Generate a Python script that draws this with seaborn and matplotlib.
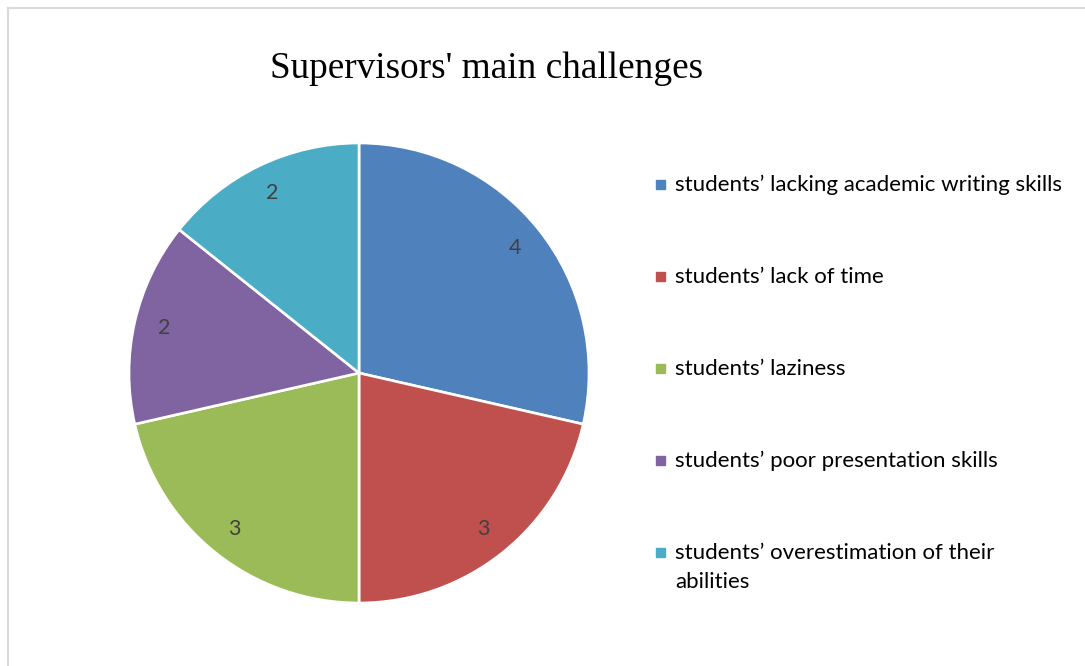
import matplotlib
matplotlib.use("Agg")
from matplotlib import pyplot as plt
from matplotlib.lines import Line2D
import seaborn as sns

# data
labels = ["students\u2019 lacking academic writing skills",
          "students\u2019 lack of time",
          "students\u2019 laziness",
          "students\u2019 poor presentation skills",
          "students\u2019 overestimation of their\nabilities"]
counts = [4, 3, 3, 2, 2]
colors = ["#4F81BD", "#C0504D", "#9BBB59", "#8064A2", "#4BACC6"]

sns.set_theme(style="white")
plt.rcParams['font.family'] = ['Lato', 'DejaVu Sans']

W, H = 1085, 666
fig = plt.figure(figsize=(W / 100, H / 100), dpi=100)

# pie centred at (359, 373) px, radius 230 px
cx, cy, r = 359, 373, 230
ax = fig.add_axes([(cx - r) / W, (H - cy - r) / H, 2 * r / W, 2 * r / H])
wedges, texts = ax.pie(counts, colors=colors, startangle=90, counterclock=False,
                       labels=[str(c) for c in counts], labeldistance=0.87,
                       wedgeprops=dict(edgecolor="white", linewidth=1.9),
                       textprops=dict(fontsize=15.5, color="#404040"))
for t in texts:
    t.set_ha("center")
    t.set_va("center")
ax.set_xlim(-1, 1)
ax.set_ylim(-1, 1)
ax.set_aspect("equal")
ax.axis("off")

fig.text(487 / W, 1 - 69 / H, "Supervisors' main challenges",
         family="Liberation Serif", fontsize=26.8, ha="center", va="center", color="black")

# legend drawn as text + square markers
y0, step = 184, 92
for i, (lab, col) in enumerate(zip(labels, colors)):
    y = y0 + i * step
    fig.patches.append(plt.Rectangle(((656) / W, 1 - (y + 5) / H), 9 / W, 9 / H,
                                     transform=fig.transFigure, color=col))
    fig.text(675 / W, 1 - (y - 9) / H, lab, fontsize=16, ha="left", va="top",
             color="black", linespacing=1.55)

# light frame around chart area (top and left edges visible)
fig.add_artist(Line2D([8 / W, 1], [1 - 8 / H, 1 - 8 / H], transform=fig.transFigure,
                      color="#D9D9D9", linewidth=1.5))
fig.add_artist(Line2D([8 / W, 8 / W], [0, 1 - 8 / H], transform=fig.transFigure,
                      color="#D9D9D9", linewidth=1.5))

fig.savefig("out.png", dpi=100, facecolor="white")
